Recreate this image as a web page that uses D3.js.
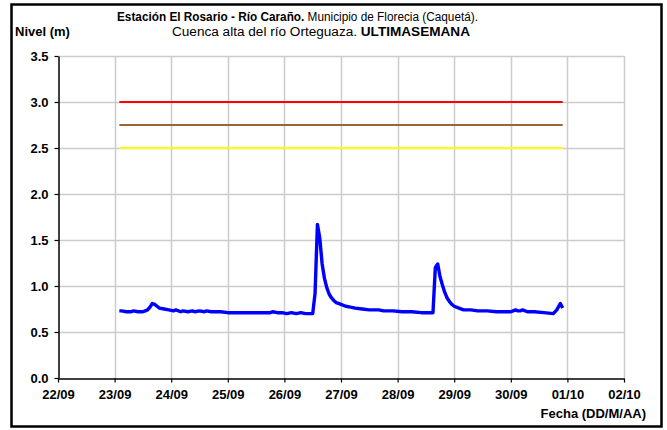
<!DOCTYPE html>
<html>
<head>
<meta charset="utf-8">
<script src="https://cdn.jsdelivr.net/npm/d3@7"></script>
<style>
  html, body { margin: 0; padding: 0; background: #fff; }
  svg { display: block; font-family: "Liberation Sans", Arial, sans-serif; }
</style>
</head>
<body>
<svg id="chart" width="667" height="430"></svg>
<script>
// ---- data ----
const times = [
  "23/09 02:00","23/09 03:00","23/09 05:00","23/09 07:00","23/09 08:00","23/09 10:00","23/09 12:00","23/09 13:00",
  "23/09 14:00","23/09 15:00","23/09 16:00","23/09 17:00","23/09 18:00","23/09 19:00","23/09 21:00","23/09 23:00",
  "24/09 01:00","24/09 02:00","24/09 04:00","24/09 05:00","24/09 07:00","24/09 09:00","24/09 10:00","24/09 12:00",
  "24/09 14:00","24/09 15:00","24/09 17:00","24/09 19:00","24/09 21:00",
  "25/09 00:00","25/09 06:00","25/09 12:00","25/09 18:00","25/09 19:00","25/09 21:00","25/09 23:00",
  "26/09 01:00","26/09 03:00","26/09 05:00","26/09 07:00","26/09 09:00","26/09 12:00","26/09 13:00","26/09 14:00",
  "26/09 15:00","26/09 16:00","26/09 17:00","26/09 18:00","26/09 19:00","26/09 20:00","26/09 21:00","26/09 22:00",
  "27/09 00:00","27/09 02:00","27/09 04:00","27/09 06:00","27/09 09:00","27/09 12:00","27/09 16:00","27/09 18:00","27/09 22:00",
  "28/09 02:00","28/09 06:00","28/09 10:00","28/09 15:00","28/09 16:00","28/09 17:00","28/09 18:00","28/09 19:00",
  "28/09 20:00","28/09 21:00","28/09 22:00","28/09 23:00",
  "29/09 00:00","29/09 02:00","29/09 04:00","29/09 07:00","29/09 10:00","29/09 14:00","29/09 18:00","29/09 22:00",
  "30/09 00:00","30/09 01:00","30/09 02:00","30/09 03:00","30/09 04:00","30/09 05:00","30/09 07:00","30/09 10:00",
  "30/09 14:00","30/09 18:00","30/09 19:30","30/09 21:00","30/09 22:00"
];
const levels = [
  0.73,0.73,0.72,0.72,0.73,0.72,0.72,0.73,
  0.74,0.77,0.81,0.80,0.78,0.76,0.75,0.74,
  0.73,0.74,0.72,0.73,0.72,0.73,0.72,0.73,
  0.72,0.73,0.72,0.72,0.72,
  0.71,0.71,0.71,0.71,0.72,0.71,0.71,
  0.70,0.71,0.70,0.71,0.70,0.70,0.92,1.67,
  1.52,1.24,1.08,0.98,0.91,0.87,0.84,0.82,
  0.80,0.78,0.77,0.76,0.75,0.74,0.74,0.73,0.73,
  0.72,0.72,0.71,0.71,1.20,1.24,1.10,1.01,
  0.93,0.87,0.83,0.80,
  0.78,0.76,0.74,0.74,0.73,0.73,0.72,0.72,
  0.72,0.73,0.74,0.73,0.73,0.74,0.72,0.72,
  0.71,0.70,0.74,0.81,0.76
];
const thresholdValues = [3.0, 2.75, 2.5];
const thresholdColors = ["#FF0000", "#996633", "#FFFF00"];
const xTickLabels = ["22/09","23/09","24/09","25/09","26/09","27/09","28/09","29/09","30/09","01/10","02/10"];
const yTicks = [0, 0.5, 1.0, 1.5, 2.0, 2.5, 3.0, 3.5];
const titleLine1Bold = "Estación El Rosario - Río Caraño.";
const titleLine1 = " Municipio de Florecia (Caquetá).";
const titleLine2 = "Cuenca alta del río Orteguaza. ";
const titleLine2Bold = "ULTIMASEMANA";
const yAxisTitle = "Nivel (m)";
const xAxisTitle = "Fecha (DD/M/AA)";

// ---- chart ----
const parse = d3.timeParse("%d/%m %H:%M");
const data = times.map((t, i) => ({ t: parse(t), v: levels[i] }));
const tickDates = xTickLabels.map(s => parse(s + " 00:00"));

const svg = d3.select("#chart");
const m = { left: 58, top: 56, right: 624, bottom: 378 };

const x = d3.scaleTime().domain([tickDates[0], tickDates[tickDates.length - 1]]).range([m.left, m.right]);
const y = d3.scaleLinear().domain([0, 3.5]).range([m.bottom, m.top]);

// outer border
svg.append("rect").attr("x", 11.5).attr("y", 4.5).attr("width", 650).attr("height", 422)
  .attr("fill", "#fff").attr("stroke", "#000").attr("stroke-width", 2.5);

// grid
const grid = svg.append("g");
grid.selectAll("line.h").data(yTicks.filter(d => d > 0)).join("line")
  .attr("x1", m.left).attr("x2", m.right)
  .attr("y1", d => Math.round(y(d)) + 0.5).attr("y2", d => Math.round(y(d)) + 0.5)
  .attr("stroke", "#cccccc").attr("stroke-width", 1.5);
grid.selectAll("line.v").data(tickDates.slice(1)).join("line")
  .attr("x1", d => Math.round(x(d)) + 0.5).attr("x2", d => Math.round(x(d)) + 0.5)
  .attr("y1", m.top).attr("y2", m.bottom)
  .attr("stroke", "#cccccc").attr("stroke-width", 1.5);

// axes
const xAxis = d3.axisBottom(x).tickValues(tickDates).tickFormat((d, i) => xTickLabels[i]).tickSize(4).tickSizeOuter(0);
const gx = svg.append("g").attr("transform", `translate(0,${m.bottom + 0.5})`).call(xAxis);
const yAxis = d3.axisLeft(y).tickValues(yTicks).tickFormat(d3.format(".1f")).tickSize(4).tickSizeOuter(0);
const gy = svg.append("g").attr("transform", `translate(${m.left + 0.5},0)`).call(yAxis);
[gx, gy].forEach(g => {
  g.selectAll("path.domain").attr("stroke", "#000").attr("stroke-width", 1.5);
  g.selectAll(".tick line").attr("stroke", "#000").attr("stroke-width", 1.2);
  g.selectAll("text").attr("font-family", "'Liberation Sans', Arial, sans-serif")
    .attr("font-size", 13).attr("font-weight", "bold").attr("fill", "#000");
});
gx.selectAll("text").attr("dy", null).attr("y", 20);
gy.selectAll("text").attr("x", -10).attr("dy", "0.36em");

// thresholds
const ext = d3.extent(data, d => d.t);
svg.append("g").selectAll("line").data(thresholdValues).join("line")
  .attr("x1", x(ext[0])).attr("x2", x(ext[1]))
  .attr("y1", d => y(d)).attr("y2", d => y(d))
  .attr("stroke", (d, i) => thresholdColors[i]).attr("stroke-width", 2);

// level line
svg.append("path").datum(data)
  .attr("fill", "none").attr("stroke", "#0000FF").attr("stroke-width", 3.4)
  .attr("stroke-linejoin", "round")
  .attr("d", d3.line().x(d => x(d.t)).y(d => y(d.v)));

// titles
const t1 = svg.append("text").attr("x", 117).attr("y", 21).attr("font-size", 12.5).attr("fill", "#000")
  .attr("textLength", 361).attr("lengthAdjust", "spacingAndGlyphs");
t1.append("tspan").attr("font-weight", "bold").text(titleLine1Bold);
t1.append("tspan").text(titleLine1);
const t2 = svg.append("text").attr("x", 172).attr("y", 35.5).attr("font-size", 12.5).attr("fill", "#000")
  .attr("textLength", 298).attr("lengthAdjust", "spacingAndGlyphs");
t2.append("tspan").text(titleLine2);
t2.append("tspan").attr("font-weight", "bold").text(titleLine2Bold);

svg.append("text").attr("x", 15).attr("y", 36).attr("font-size", 13).attr("font-weight", "bold").text(yAxisTitle);
svg.append("text").attr("x", 646).attr("y", 418).attr("text-anchor", "end")
  .attr("font-size", 13).attr("font-weight", "bold").text(xAxisTitle);
</script>
</body>
</html>
